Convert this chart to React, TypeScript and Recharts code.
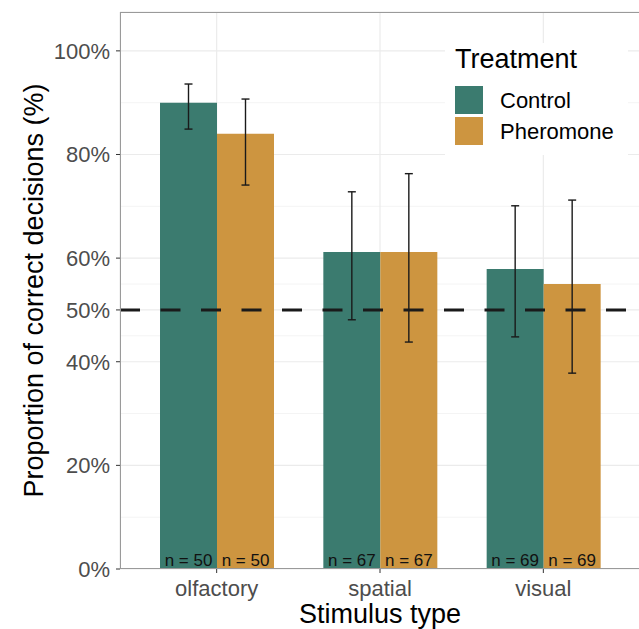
import React from 'react';
import {
  BarChart,
  Bar,
  XAxis,
  YAxis,
  CartesianGrid,
  ErrorBar,
  LabelList,
  Label,
  Legend,
  ReferenceLine,
} from 'recharts';

const categories = ['olfactory', 'spatial', 'visual'];
const control = [90.0, 61.2, 57.9];
const pheromone = [84.0, 61.2, 55.0];
const controlLow = [84.9, 48.1, 44.8];
const controlHigh = [93.6, 72.8, 70.1];
const pheromoneLow = [74.1, 43.8, 37.8];
const pheromoneHigh = [90.7, 76.3, 71.2];
const nControl = [50, 67, 69];
const nPheromone = [50, 67, 69];
const yTicks = [0, 20, 40, 50, 60, 80, 100];
const yMinor = [10, 30, 45, 55, 70, 90];

const series = [
  { key: 'control', name: 'Control', color: '#3b7b6f' },
  { key: 'pheromone', name: 'Pheromone', color: '#cd9540' },
];

const data = categories.map((c, i) => ({
  stimulus: c,
  control: control[i],
  pheromone: pheromone[i],
  controlErr: [control[i] - controlLow[i], controlHigh[i] - control[i]],
  pheromoneErr: [pheromone[i] - pheromoneLow[i], pheromoneHigh[i] - pheromone[i]],
  nControl: nControl[i],
  nPheromone: nPheromone[i],
}));

const FONT = '"Liberation Sans", Arial, Helvetica, sans-serif';

const LegendBox = () => (
  <svg width={183} height={112} style={{ display: 'block' }}>
    <rect x={0} y={0} width={183} height={112} fill="#ffffff" />
    <text x={10} y={25} fontSize={27} fill="#000" fontFamily={FONT}>
      Treatment
    </text>
    {series.map((s, i) => (
      <g key={s.key}>
        <rect x={10} y={43 + i * 31} width={28} height={28} fill={s.color} />
        <text x={55} y={65 + i * 31} fontSize={22} fill="#000" fontFamily={FONT}>
          {s.name}
        </text>
      </g>
    ))}
  </svg>
);

const YTitle = ({ viewBox }: any) => {
  const cy = viewBox.y + viewBox.height / 2;
  return (
    <text
      x={43}
      y={cy}
      transform={`rotate(-90, 43, ${cy})`}
      textAnchor="middle"
      fontSize={27}
      fill="#000"
      fontFamily={FONT}
    >
      Proportion of correct decisions (%)
    </text>
  );
};

export default function App() {
  return (
    <div
      style={{
        position: 'absolute',
        left: 0,
        top: 0,
        width: 639,
        height: 629,
        overflow: 'hidden',
        background: '#fff',
        fontFamily: FONT,
      }}
    >
      <BarChart
        width={660}
        height={629}
        data={data}
        margin={{ top: 12, right: 20, bottom: 0, left: 0 }}
        barCategoryGap={25}
        barGap={0}
      >
        <CartesianGrid
          horizontalValues={yMinor}
          vertical={false}
          stroke="#f4f4f4"
          strokeWidth={1}
        />
        <CartesianGrid stroke="#ebebeb" strokeWidth={1.2} />
        <XAxis
          dataKey="stimulus"
          height={60}
          padding={{ left: 15, right: 15 }}
          tickSize={4}
          tickMargin={7}
          axisLine={false}
          tickLine={{ stroke: '#333' }}
          tick={{ fontSize: 22, fill: '#4d4d4d', fontFamily: FONT }}
        >
          <Label
            value="Stimulus type"
            position="insideBottom"
            offset={6}
            style={{ fontSize: 27, fill: '#000', fontFamily: FONT }}
          />
        </XAxis>
        <YAxis
          width={120}
          domain={[0, 107.5]}
          ticks={yTicks}
          interval={0}
          allowDataOverflow
          tickFormatter={(v: number) => `${v}%`}
          tickSize={4}
          tickMargin={6}
          axisLine={false}
          tickLine={{ stroke: '#333' }}
          tick={{ fontSize: 22, fill: '#4d4d4d', fontFamily: FONT }}
        >
          <Label content={<YTitle />} />
        </YAxis>
        <Legend
          layout="vertical"
          align="center"
          verticalAlign="middle"
          wrapperStyle={{ left: 445, top: 43, width: 183, height: 112 }}
          content={() => <LegendBox />}
        />
        <Bar dataKey="control" name="Control" fill={series[0].color} isAnimationActive={false}>
          <ErrorBar dataKey="controlErr" width={4} stroke="#1a1a1a" strokeWidth={1.4} />
          <LabelList
            dataKey="nControl"
            position="insideBottom"
            offset={3}
            formatter={(v: any) => `n = ${v}`}
            style={{ fontSize: 17, fill: '#111', fontFamily: FONT }}
          />
        </Bar>
        <Bar dataKey="pheromone" name="Pheromone" fill={series[1].color} isAnimationActive={false}>
          <ErrorBar dataKey="pheromoneErr" width={4} stroke="#1a1a1a" strokeWidth={1.4} />
          <LabelList
            dataKey="nPheromone"
            position="insideBottom"
            offset={3}
            formatter={(v: any) => `n = ${v}`}
            style={{ fontSize: 17, fill: '#111', fontFamily: FONT }}
          />
        </Bar>
        <ReferenceLine y={50} stroke="#1a1a1a" strokeWidth={3} strokeDasharray="20 20.5" />
      </BarChart>
      <div
        style={{
          position: 'absolute',
          left: 120,
          top: 12,
          width: 520,
          height: 557,
          border: '1px solid #9a9a9a',
          boxSizing: 'border-box',
          pointerEvents: 'none',
        }}
      />
    </div>
  );
}
